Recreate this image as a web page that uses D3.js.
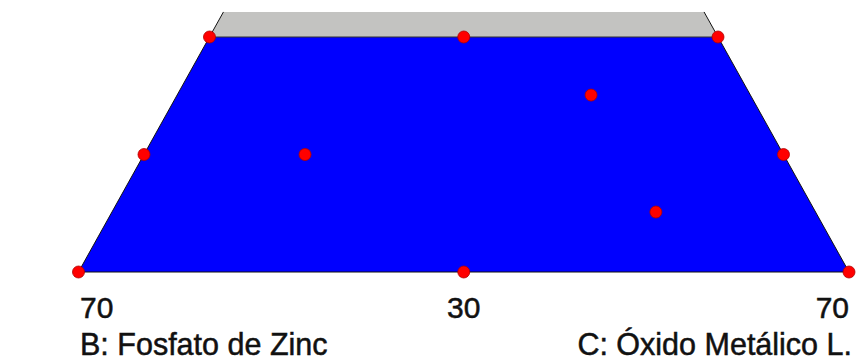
<!DOCTYPE html>
<html>
<head>
<meta charset="utf-8">
<script src="https://cdn.jsdelivr.net/npm/d3@7"></script>
<style>
    body { margin: 0; background: #ffffff; }
    svg { display: block; }
</style>
</head>
<body>
<svg id="chart" width="856" height="363"></svg>
<script>
// design points (A, B), C = 100 - A - B
const ptA = [0, 0, 0, 6.8, 6.8, 13.6, 13.6, 13.6, 6.8, 10.24, 3.47];
const ptB = [70, 50, 30, 63.2, 54.84, 56.4, 43.2, 30, 30, 38.27, 38.29];

// constrained region limits
const aMax = 13.6;      // top of blue region
const aGray = 15.05;    // visible top of grey band
const bMin = 30;
const cMin = 30;

const tickLabels = ['70', '30', '70'];
const tickPos = [[0, 70], [0, 50], [0, 30]];   // (A, B) of bottom ticks
const axisLabels = ['B: Fosfato de Zinc', 'C: Óxido Metálico L.'];

const svg = d3.select('#chart');

const x = d3.scaleLinear().domain([30, 70]).range([78.5, 849]);
const y = d3.scaleLinear().domain([0, aMax]).range([272, 37]);

// ternary -> screen
function px(a, b) {
    const c = 100 - a - b;
    return x(c + a / 2);
}
function py(a) {
    return y(a);
}
// vertex at given A on left (C = cMin) and right (B = bMin) edges
function leftAt(a) { return [px(a, 100 - a - cMin), py(a)]; }
function rightAt(a) { return [px(a, bMin), py(a)]; }

svg.append('rect')
    .attr('width', 856)
    .attr('height', 363)
    .attr('fill', '#ffffff');

const line = d3.line();

// grey band above the region
svg.append('path')
    .attr('d', line([leftAt(aMax), leftAt(aGray), rightAt(aGray), rightAt(aMax)]) + 'Z')
    .attr('fill', '#c3c3c1')
    .attr('stroke', 'none');

// blue region
svg.append('path')
    .attr('d', line([leftAt(0), leftAt(aMax), rightAt(aMax), rightAt(0)]) + 'Z')
    .attr('fill', '#0000ff')
    .attr('stroke', 'none');

// outline
svg.append('path')
    .attr('d', line([leftAt(aGray), leftAt(0), rightAt(0), rightAt(aGray)]))
    .attr('fill', 'none')
    .attr('stroke', '#111')
    .attr('stroke-width', 1);

svg.append('path')
    .attr('d', line([leftAt(aMax), rightAt(aMax)]))
    .attr('fill', 'none')
    .attr('stroke', '#333')
    .attr('stroke-width', 1.2);

// design points
svg.selectAll('circle.pt')
    .data(ptA.map(function(a, i) { return {a: a, b: ptB[i]}; }))
    .enter()
    .append('circle')
    .attr('class', 'pt')
    .attr('cx', function(d) { return px(d.a, d.b); })
    .attr('cy', function(d) { return py(d.a); })
    .attr('r', 6)
    .attr('fill', '#ff0000')
    .attr('stroke', '#b00000')
    .attr('stroke-width', 0.8);

const font = 'Liberation Sans, Arial, sans-serif';

// bottom tick labels
const anchors = ['start', 'middle', 'end'];
const offs = [1.5, 0, 0];
svg.selectAll('text.tick')
    .data(tickLabels)
    .enter()
    .append('text')
    .attr('class', 'tick')
    .attr('x', function(d, i) { return px(tickPos[i][0], tickPos[i][1]) + offs[i]; })
    .attr('y', 318)
    .attr('text-anchor', function(d, i) { return anchors[i]; })
    .attr('font-family', font)
    .attr('font-size', 30)
    .attr('fill', '#111')
    .attr('stroke', '#111')
    .attr('stroke-width', 0.5)
    .text(function(d) { return d; });

svg.append('text')
    .attr('x', 80)
    .attr('y', 355)
    .attr('font-family', font)
    .attr('font-size', 30.5)
    .attr('fill', '#111')
    .attr('stroke', '#111')
    .attr('stroke-width', 0.5)
    .text(axisLabels[0]);

svg.append('text')
    .attr('x', 852)
    .attr('y', 355)
    .attr('text-anchor', 'end')
    .attr('font-family', font)
    .attr('font-size', 30.5)
    .attr('fill', '#111')
    .attr('stroke', '#111')
    .attr('stroke-width', 0.5)
    .text(axisLabels[1]);
</script>
</body>
</html>
